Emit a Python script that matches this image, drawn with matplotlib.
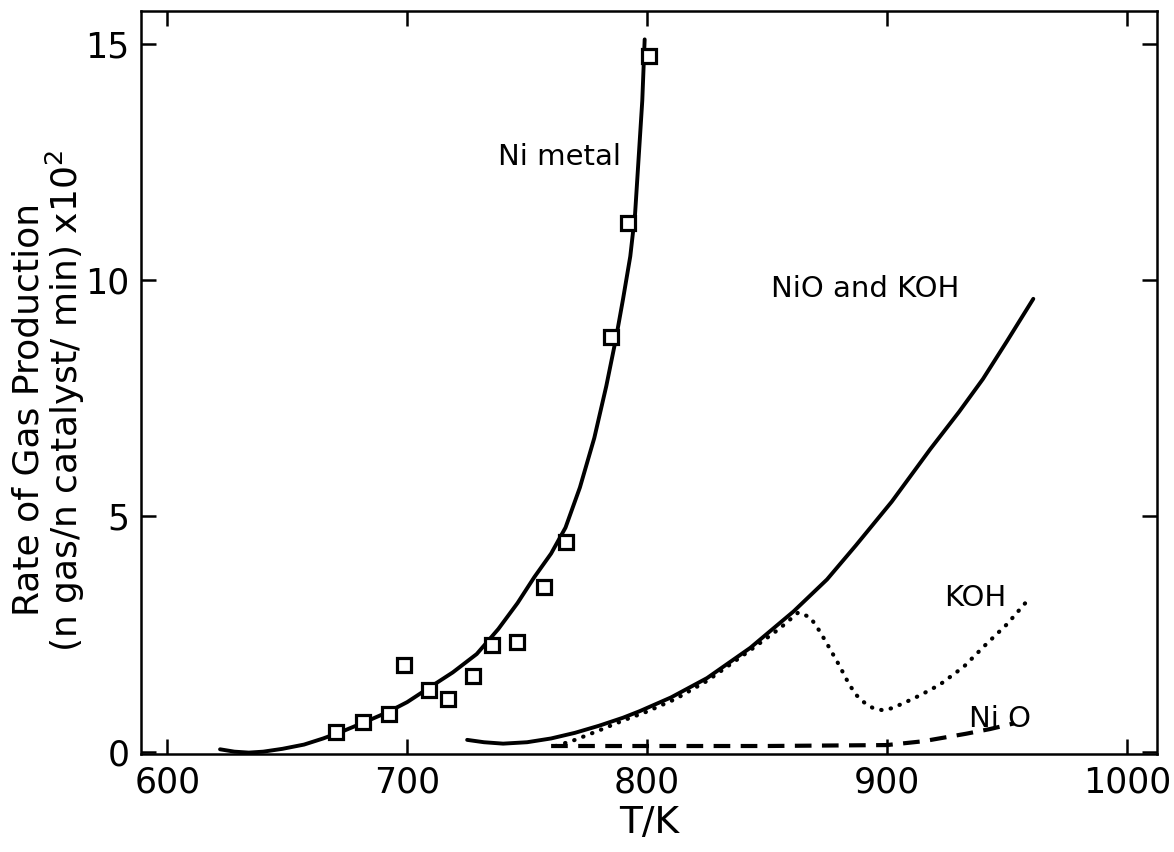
import matplotlib.pyplot as plt

# Ni metal: measured points (squares) and fitted curve
ni_T = [670.5, 681.6, 692.4, 698.7, 709, 717, 727.3, 735.2, 745.6, 757, 766, 785, 792, 801]
ni_rate = [0.42, 0.63, 0.80, 1.84, 1.31, 1.12, 1.60, 2.26, 2.33, 3.5, 4.45, 8.8, 11.2, 14.75]

ni_curve_T = [622, 628, 634, 640, 648, 657, 665, 673, 682, 692, 700, 709, 719, 729, 738, 746,
              753, 760, 766, 772, 778, 783, 787, 790, 793, 795, 796.5, 798, 799]
ni_curve_rate = [0.05, 0.0, -0.02, 0.0, 0.06, 0.15, 0.28, 0.43, 0.62, 0.84, 1.05, 1.35, 1.68,
                 2.07, 2.6, 3.15, 3.7, 4.2, 4.75, 5.6, 6.65, 7.75, 8.75, 9.6, 10.5, 11.4, 12.6,
                 13.8, 15.1]

# NiO and KOH
mix_T = [725, 732, 740, 750, 760, 770, 780, 790, 797, 810, 825, 843, 861, 875, 887, 902, 918,
         930, 940, 950, 961]
mix_rate = [0.25, 0.2, 0.17, 0.2, 0.28, 0.4, 0.55, 0.72, 0.86, 1.15, 1.56, 2.2, 2.97, 3.65,
            4.37, 5.3, 6.41, 7.2, 7.9, 8.7, 9.6]

# KOH
koh_T = [762, 770, 780, 790, 800, 812, 825, 843, 855, 863, 868, 872, 876, 880, 884, 887, 891,
         894, 898, 902, 907, 914, 922, 932, 941, 950, 958]
koh_rate = [0.12, 0.25, 0.45, 0.66, 0.85, 1.12, 1.5, 2.15, 2.6, 2.95, 2.85, 2.55, 2.2, 1.84, 1.45,
            1.21, 1.02, 0.93, 0.88, 0.92, 1.03, 1.2, 1.42, 1.8, 2.26, 2.7, 3.17]

# NiO
nio_T = [760, 800, 850, 900, 915, 933, 943, 953]
nio_rate = [0.12, 0.12, 0.12, 0.14, 0.22, 0.38, 0.48, 0.6]

plt.rcParams['font.family'] = ['DejaVu Sans']

fig = plt.figure(figsize=(11.74, 8.52), dpi=100)
ax = fig.add_axes([0.120, 0.115, 0.8654, 0.872])

ax.plot(ni_curve_T, ni_curve_rate, color='black', lw=2.8, solid_capstyle='round')
ax.plot(ni_T, ni_rate, linestyle='none', marker='s', markersize=9.5, mfc='white',
        mec='black', mew=2.3)
ax.plot(mix_T, mix_rate, color='black', lw=2.8, solid_capstyle='round')
ax.plot(koh_T, koh_rate, color='black', lw=3.0, linestyle=(0, (0.1, 2.2)),
        dash_capstyle='round')
ax.plot(nio_T, nio_rate, color='black', lw=3.0, linestyle=(0, (4.0, 2.5)))

ax.text(789, 12.6, 'Ni metal', fontsize=21, ha='right', va='center')
ax.text(930, 9.8, 'NiO and KOH', fontsize=21, ha='right', va='center')
ax.text(924, 3.25, 'KOH', fontsize=21, ha='left', va='center')
ax.text(934, 0.4, 'Ni O', fontsize=21, ha='left', va='bottom')

ax.set_xlim(589, 1012.5)
ax.set_ylim(-0.05, 15.7)
ax.set_xticks([600, 700, 800, 900, 1000])
ax.set_yticks([0, 5, 10, 15])
ax.tick_params(direction='in', length=11, width=1.8, labelsize=25, pad=8,
               top=True, right=True)
for s in ax.spines.values():
    s.set_linewidth(1.8)

ax.set_xlabel('T/K', fontsize=27, labelpad=4)
fig.text(0.024, 0.52, 'Rate of Gas Production', rotation=90, fontsize=26,
         ha='center', va='center')
fig.text(0.056, 0.53, '(n gas/n catalyst/ min) x10$^2$', rotation=90, fontsize=26,
         ha='center', va='center')

fig.savefig('out.png', dpi=100)
